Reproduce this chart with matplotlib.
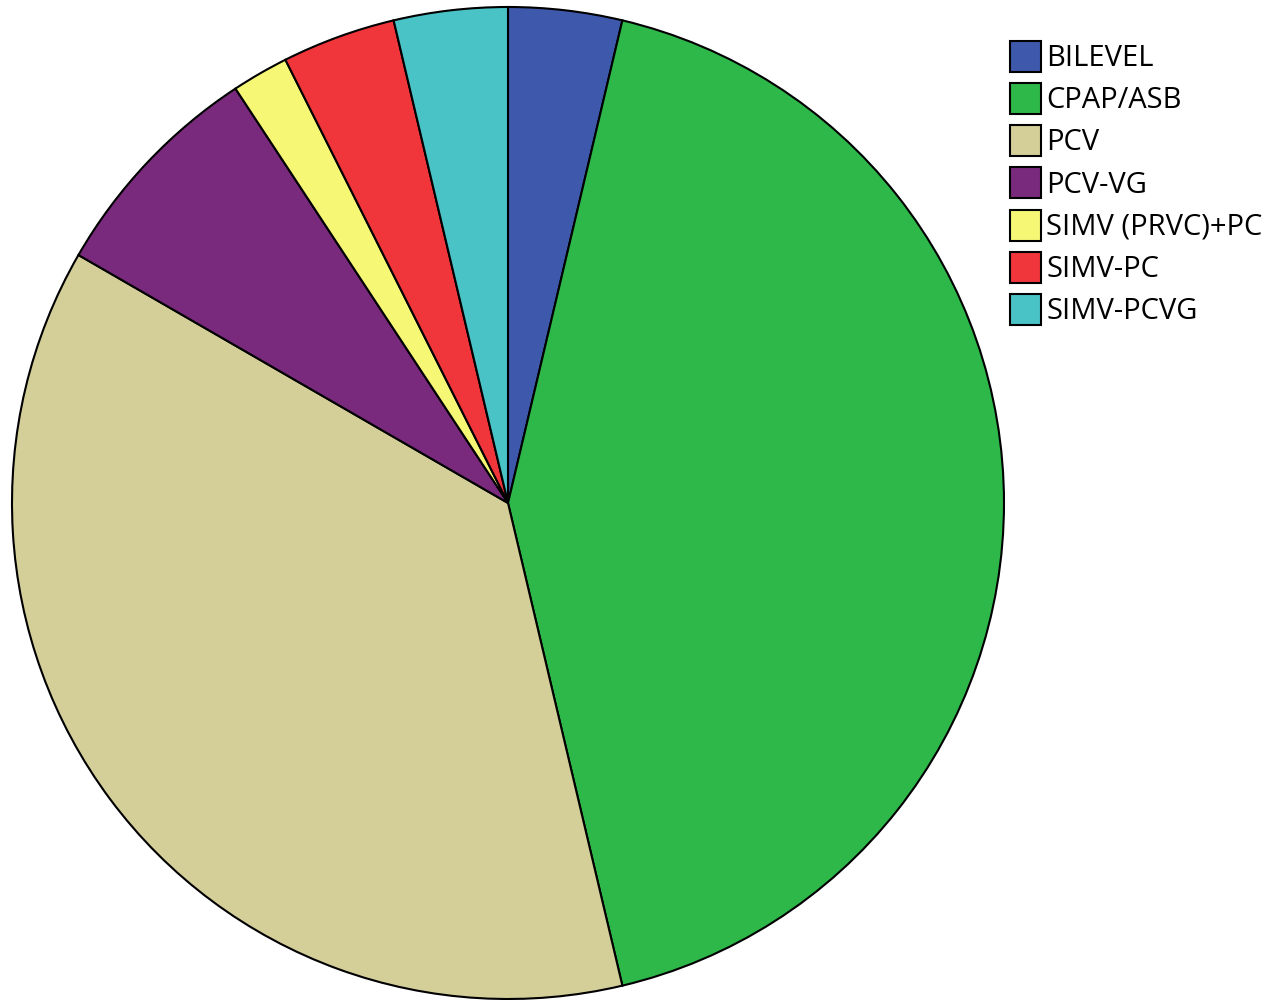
import matplotlib.pyplot as plt

# Ventilation modes (counts)
modes = ['BILEVEL', 'CPAP/ASB', 'PCV', 'PCV-VG', 'SIMV (PRVC)+PC', 'SIMV-PC', 'SIMV-PCVG']
counts = [2, 23, 20, 4, 1, 2, 2]
colors = ['#3e58ac', '#2eb84a', '#d4ce98', '#7a2a7c', '#f7f776', '#f0353b', '#4ac3c7']

plt.rcParams['font.family'] = ['Open Sans', 'DejaVu Sans']

fig = plt.figure(figsize=(12.86, 10), dpi=100)
ax = fig.add_axes([0, 0, 1, 1])
wedges, _ = ax.pie(counts, colors=colors, startangle=90, counterclock=False,
                   center=(508, 497), radius=496,
                   wedgeprops={'edgecolor': 'black', 'linewidth': 1.5})
ax.set_xlim(0, 1286)
ax.set_ylim(0, 1000)
ax.set_aspect('equal')
ax.axis('off')

leg = ax.legend(wedges, modes, loc='upper left', bbox_to_anchor=(998 / 1286, 1 - 29 / 1000),
                frameon=False, fontsize=21, handlelength=1.06, handleheight=1.26,
                handletextpad=0.2, labelspacing=0.34, borderaxespad=0)
for h in leg.legend_handles:
    h.set_edgecolor('black')
    h.set_linewidth(1.5)

fig.savefig('out.png', dpi=100)
